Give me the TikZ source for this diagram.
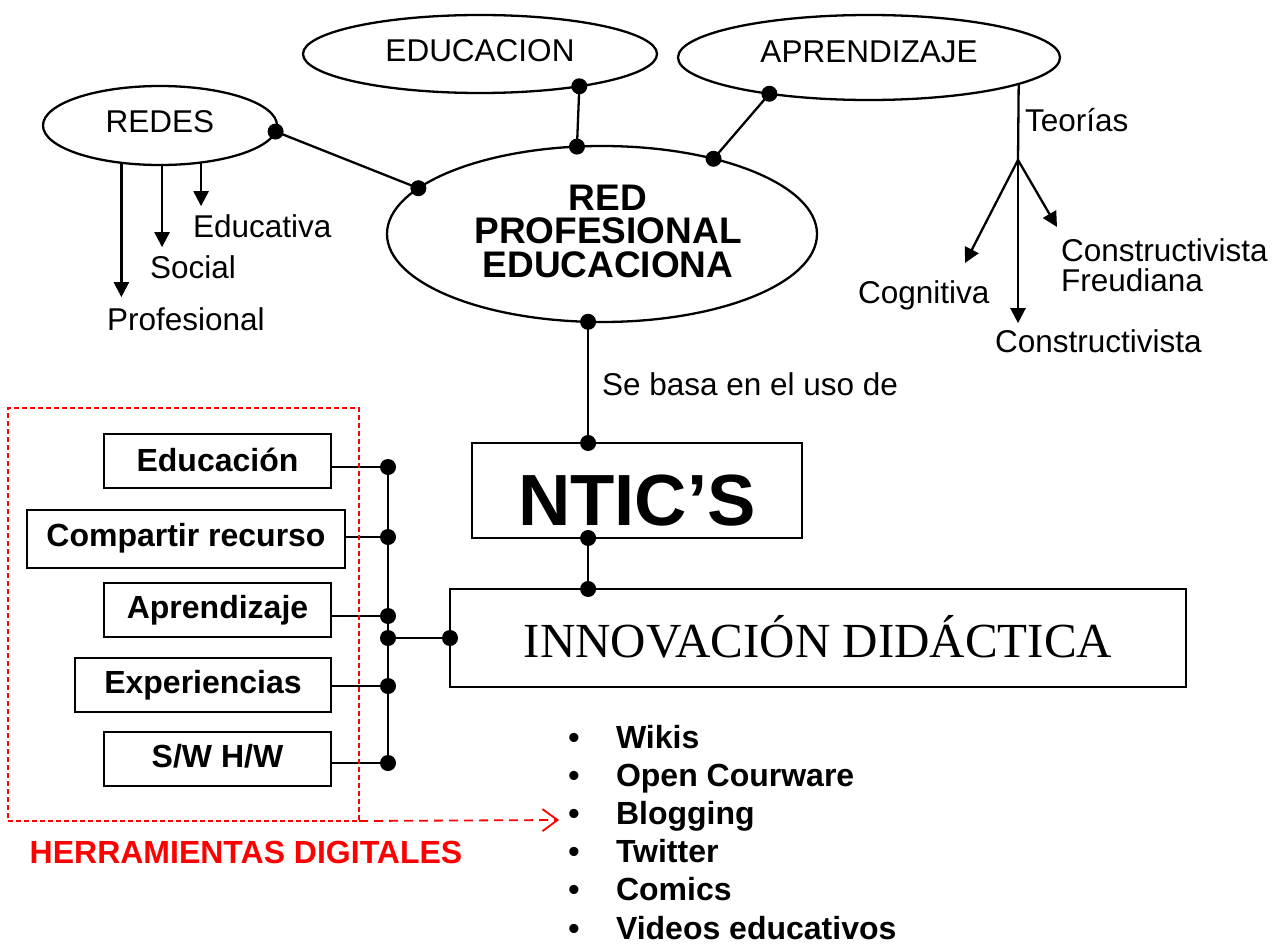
\documentclass[tikz,border=0pt]{standalone}
\usepackage{fontspec}
\setmainfont{Liberation Sans}
\newfontfamily\mytimes{Liberation Serif}
\usetikzlibrary{shapes.geometric,arrows.meta,calc}
\newcommand{\mynorm}{\fontsize{31.5pt}{36pt}\selectfont}
\newcommand{\mybold}{\fontsize{32pt}{36pt}\bfseries\selectfont}
\begin{document}
\begin{tikzpicture}[x=1pt,y=-1pt,
  every node/.style={inner sep=0pt, outer sep=0pt},
  ell/.style={ellipse, draw, line width=2.3pt, font=\mynorm, text depth=0pt},
  lbl/.style={font=\mynorm, anchor=base west},
  bbox/.style={draw, line width=2.6pt, font=\mybold, text depth=0pt},
  conn/.style={line width=2.3pt},
  arr/.style={line width=2.3pt, -{Triangle[length=15pt,width=15pt]}},
  dot/.style={circle, fill=black, minimum size=16pt, inner sep=0pt},
  litem/.style={font=\mybold, anchor=base west, text depth=0pt},
  lbul/.style={font=\mybold, anchor=base, text depth=0pt},
]
\useasboundingbox (0,0) rectangle (1273,944);

% ellipses
\node[ell, minimum width=234pt, minimum height=79pt, text height=15pt] (redes) at (160,125.5) {REDES};
\node[ell, minimum width=354pt, minimum height=78pt, text height=16pt] (educ) at (480,54) {EDUCACION};
\node[ell, minimum width=382pt, minimum height=85pt, text height=11pt] (aprend) at (869,57.5) {APRENDIZAJE};
\node[ell, minimum width=430pt, minimum height=176pt] (red) at (602,234) {};
\node[font=\fontsize{37pt}{33.5pt}\bfseries\selectfont, align=center] (redtxt) at (608,231.3) {RED\\PROFESIONAL\\EDUCACIONA};

% connectors between ellipses
\draw[conn] (redes.-3) node[dot] (dr1) {} -- (red.166) node[dot] (dr2) {};
\draw[conn] (educ.-18.6) node[dot] (de1) {} -- (red.106) node[dot] (de2) {};
\draw[conn] (aprend.-160.8) node[dot] (da1) {} -- (red.34.3) node[dot] (da2) {};

% REDES types
\node[lbl] (prof) at (107,330) {Profesional};
\node[lbl] (social) at (150,278) {Social};
\node[lbl] (educa) at (193,237) {Educativa};
\draw[arr, shorten >=10pt] (redes.-136) -- (redes.-136 |- prof.north);
\draw[arr, shorten >=8pt] (redes.-87) -- (redes.-87 |- social.north);
\draw[arr, shorten >=8pt] (redes.-42.4) -- (redes.-42.4 |- educa.north);

% Teorias
\node[lbl] (teorias) at (1025,132) {Teorías};
\coordinate (branch) at (1018,160);
\coordinate (tipcog) at (965,263);
\coordinate (tipfre) at (1057,227);
\node[lbl] (cog) at (858,303) {Cognitiva};
\node[lbl] (constr) at (995,352) {Constructivista};
\node[font=\fontsize{31.5pt}{30pt}\selectfont, align=left, anchor=west] (freud) at (1061,265.4) {Constructivista\\Freudiana};
\draw[conn] (aprend.-10.1) -- (branch);
\draw[arr, shorten >=6pt] (branch) -- (branch |- constr.north);
\draw[arr] (branch) -- (tipcog);
\draw[arr] (branch) -- (tipfre);

% NTIC and innovation
\node[draw, line width=2.3pt, minimum width=330pt, minimum height=95pt,
      font=\fontsize{72.5pt}{80pt}\bfseries\selectfont, text height=69pt, text depth=0pt] (ntic) at (637,490.5) {NTIC’S};
\node[draw, line width=2.3pt, minimum width=736pt, minimum height=98pt,
      font=\mytimes\fontsize{49pt}{56pt}\selectfont, text height=39pt, text depth=0pt] (innov) at (818,638) {INNOVACIÓN DIDÁCTICA};
\node[lbl] (sebasa) at (602,395) {Se basa en el uso de};

\draw[conn] (red.-99.7) node[dot] (dn1) {} -- (red.-99.7 |- ntic.north) node[dot] (dn2) {};
\draw[conn] (red.-99.7 |- ntic.south) node[dot] (dn3) {} -- (red.-99.7 |- innov.north) node[dot] (dn4) {};

% left boxes
\node[bbox, minimum width=227pt, minimum height=54pt, text height=20pt] (b1) at (217.5,461) {Educación};
\node[bbox, minimum width=318pt, minimum height=58pt, text height=14pt] (b2) at (186,539) {Compartir recurso};
\node[bbox, minimum width=227pt, minimum height=54pt, text height=16pt] (b3) at (217.5,610) {Aprendizaje};
\node[bbox, minimum width=256pt, minimum height=54pt, text height=16pt] (b4) at (203,685) {Experiencias};
\node[bbox, minimum width=227pt, minimum height=54pt, text height=16pt] (b5) at (217.5,759) {S/W H/W};

\coordinate (bus) at (388,638);
\draw[conn] ([yshift=-6pt]b1.east) -- ([yshift=-6pt]b1.east -| bus) node[dot] (k1) {};
\draw[conn] ([yshift=2pt]b2.east) -- ([yshift=2pt]b2.east -| bus) node[dot] (k2) {};
\draw[conn] ([yshift=-6pt]b3.east) -- ([yshift=-6pt]b3.east -| bus) node[dot] (k3) {};
\draw[conn] ([yshift=-1pt]b4.east) -- ([yshift=-1pt]b4.east -| bus) node[dot] (k4) {};
\draw[conn] ([yshift=-4pt]b5.east) -- ([yshift=-4pt]b5.east -| bus) node[dot] (k5) {};
\draw[conn] (k1.center) -- (k5.center);
\draw[conn] (bus) node[dot] (kj) {} -- (innov.west) node[dot] (ki) {};

% herramientas digitales
\node[draw=red, line width=1.2pt, dash pattern=on 5pt off 3pt, minimum width=351pt, minimum height=413pt] (herr) at (183.5,614.5) {};
\node[font=\mybold, text=red, anchor=base] (herrtxt) at (246,863) {HERRAMIENTAS DIGITALES};
\coordinate (tipblog) at (559,820);
\draw[red, line width=1.8pt, dash pattern=on 9pt off 6pt, -{Straight Barb[length=15pt,width=22pt]}] (herr.south east) -- (tipblog);

% list
\node[lbul] (u1) at (574,748) {•};
\node[litem] (l1) at (616,748) {Wikis};
\node[lbul] (u2) at (574,786.2) {•};
\node[litem] (l2) at (616,786.2) {Open Courware};
\node[lbul] (u3) at (574,824.4) {•};
\node[litem] (l3) at (616,824.4) {Blogging};
\node[lbul] (u4) at (574,862.6) {•};
\node[litem] (l4) at (616,862.6) {Twitter};
\node[lbul] (u5) at (574,900.8) {•};
\node[litem] (l5) at (616,900.8) {Comics};
\node[lbul] (u6) at (574,939) {•};
\node[litem] (l6) at (616,939) {Videos educativos};
\end{tikzpicture}
\end{document}
